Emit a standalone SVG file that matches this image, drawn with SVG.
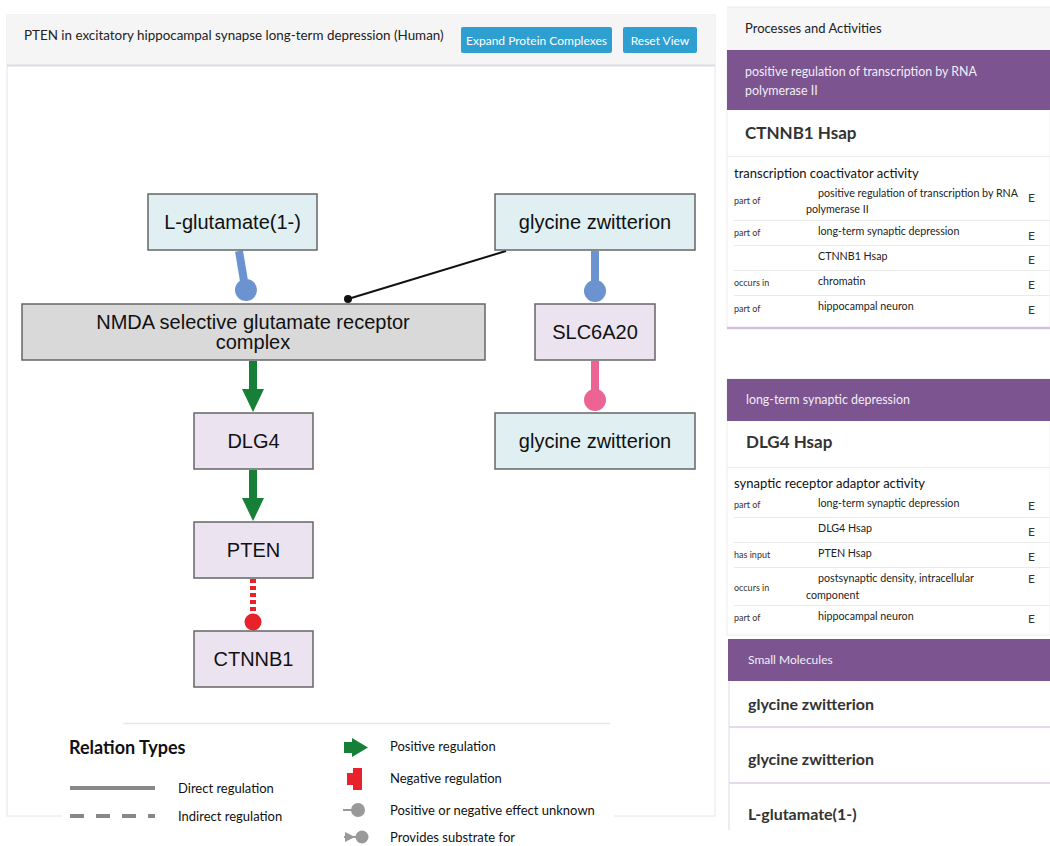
<svg xmlns="http://www.w3.org/2000/svg" width="1050" height="846" viewBox="0 0 1050 846">
<style>
.ui{font-family:Lato,"Open Sans","Liberation Sans",sans-serif}
.nt{font-family:"Liberation Sans",Arial,sans-serif;font-size:20px;fill:#111;text-anchor:middle;dominant-baseline:central}
.chem{fill:#e0eff2;stroke:#666;stroke-width:1.5}
.prot{fill:#ebe3f0;stroke:#666;stroke-width:1.5}
.cplx{fill:#d9d9d9;stroke:#666;stroke-width:1.5}
.btn{fill:#2d9fd1}
.btnt{font-size:12px;fill:#fff;text-anchor:middle}
.purp{fill:#7b5490}
.sm{font-size:9px;fill:#333}
.rt{font-size:10.7px;fill:#222}
.e{font-size:12px;fill:#333}
.sep{stroke:#eaeaea;stroke-width:1}
.lg{font-size:13px;fill:#111}
</style>
<rect width="1050" height="846" fill="#fff"/>
<!-- left panel -->
<g id="left-panel">
<rect x="7" y="15" width="708" height="801" fill="#fff" stroke="#e4e4ee" stroke-width="1"/>
<rect x="7" y="15" width="708" height="50" fill="#f5f5f5"/>
<line x1="7" y1="65.5" x2="715" y2="65.5" stroke="#dcdce6" stroke-width="2"/>
<text class="ui" x="24" y="40" font-size="13.4" fill="#222">PTEN in excitatory hippocampal synapse long-term depression (Human)</text>
<rect class="btn" x="461" y="27" width="151" height="26" rx="2"/>
<text class="ui btnt" x="536.5" y="44.5">Expand Protein Complexes</text>
<rect class="btn" x="623" y="27" width="74" height="26" rx="2"/>
<text class="ui btnt" x="660" y="44.5">Reset View</text>
</g>
<!-- connectors -->
<g id="connectors">
<line x1="239" y1="251" x2="245" y2="287" stroke="#6b93cf" stroke-width="8"/>
<circle cx="246" cy="290" r="11" fill="#6b93cf"/>
<line x1="506" y1="251" x2="348" y2="299" stroke="#111" stroke-width="2"/>
<circle cx="348" cy="299" r="4" fill="#111"/>
<line x1="595" y1="251" x2="595" y2="288" stroke="#6b93cf" stroke-width="8"/>
<circle cx="595" cy="291" r="11" fill="#6b93cf"/>
<line x1="595" y1="361" x2="595" y2="397" stroke="#ec6493" stroke-width="8"/>
<circle cx="595" cy="400" r="11" fill="#ec6493"/>
<line x1="253" y1="361" x2="253" y2="391" stroke="#168037" stroke-width="8"/>
<polygon points="242,389 264,389 253,412" fill="#168037"/>
<line x1="253" y1="470" x2="253" y2="500" stroke="#168037" stroke-width="8"/>
<polygon points="242,498 264,498 253,521" fill="#168037"/>
<line x1="253" y1="579" x2="253" y2="614" stroke="#e8222a" stroke-width="6" stroke-dasharray="4,3"/>
<circle cx="253" cy="622" r="8.5" fill="#e8222a"/>
</g>
<!-- nodes -->
<g id="n-lglutamate"><rect class="chem" x="148" y="194" width="169" height="56"/><text class="nt" x="232.5" y="222">L-glutamate(1-)</text></g>
<g id="n-glycine1"><rect class="chem" x="495" y="194" width="200" height="56"/><text class="nt" x="595" y="222">glycine zwitterion</text></g>
<g id="n-nmda"><rect class="cplx" x="22" y="304" width="463" height="56"/><text class="nt" x="253" y="322">NMDA selective glutamate receptor</text><text class="nt" x="253" y="342">complex</text></g>
<g id="n-slc6a20"><rect class="prot" x="535" y="304" width="120" height="56"/><text class="nt" x="595" y="332">SLC6A20</text></g>
<g id="n-glycine2"><rect class="chem" x="495" y="413" width="200" height="56"/><text class="nt" x="595" y="441">glycine zwitterion</text></g>
<g id="n-dlg4"><rect class="prot" x="194" y="413" width="119" height="56"/><text class="nt" x="253.5" y="441">DLG4</text></g>
<g id="n-pten"><rect class="prot" x="194" y="522" width="119" height="56"/><text class="nt" x="253.5" y="550">PTEN</text></g>
<g id="n-ctnnb1"><rect class="prot" x="194" y="631" width="119" height="56"/><text class="nt" x="253.5" y="659">CTNNB1</text></g>
<!-- legend -->
<g id="legend">
<rect x="62" y="723" width="552" height="123" fill="#fff"/>
<line x1="123" y1="723.5" x2="610" y2="723.5" stroke="#e6e6ee" stroke-width="1.5"/>
<text class="ui" x="69" y="754" font-size="18" font-weight="bold" fill="#111">Relation Types</text>
<line x1="70" y1="788" x2="155" y2="788" stroke="#888" stroke-width="4"/>
<text class="ui lg" x="178" y="793">Direct regulation</text>
<line x1="70" y1="816" x2="155" y2="816" stroke="#888" stroke-width="4" stroke-dasharray="14,12"/>
<text class="ui lg" x="178" y="821">Indirect regulation</text>
<polygon points="344,742 352,742 352,738 368,747.5 352,757 352,753 344,753" fill="#168037"/>
<text class="ui lg" x="390" y="751">Positive regulation</text>
<polygon points="353,768 362,768 362,790 353,790 353,785 347,785 347,773 353,773" fill="#e8222a"/>
<text class="ui lg" x="390" y="783">Negative regulation</text>
<line x1="343" y1="810" x2="353" y2="810" stroke="#999" stroke-width="2"/>
<circle cx="358" cy="810" r="7" fill="#999"/>
<text class="ui lg" x="390" y="815">Positive or negative effect unknown</text>
<polygon points="345,832 355,837 345,842" fill="#999"/>
<line x1="344" y1="837" x2="356" y2="837" stroke="#999" stroke-width="2"/>
<circle cx="362" cy="837" r="6.5" fill="#999"/>
<text class="ui lg" x="390" y="842">Provides substrate for</text>
</g>
<!-- right panel -->
<g id="right-panel" class="ui">
<rect x="727" y="7" width="323" height="43" fill="#f6f6f6"/>
<line x1="727" y1="7" x2="1050" y2="7" stroke="#eee"/>
<text x="745" y="33" font-size="13" fill="#222">Processes and Activities</text>
<g id="card1">
<rect x="727" y="50" width="323" height="278" fill="#fff" stroke="#eee"/>
<rect class="purp" x="727" y="50" width="323" height="60"/>
<text x="745" y="76" font-size="12.4" fill="#f2eef6">positive regulation of transcription by RNA</text>
<text x="745" y="95" font-size="12.4" fill="#f2eef6">polymerase II</text>
<text x="745" y="139" font-size="17" font-weight="bold" fill="#333">CTNNB1 Hsap</text>
<line x1="727" y1="156.5" x2="1050" y2="156.5" stroke="#ececec"/>
<text x="734" y="178" font-size="13" fill="#111">transcription coactivator activity</text>
<text class="sm" x="734" y="204">part of</text>
<text class="rt" x="818" y="197">positive regulation of transcription by RNA</text>
<text class="rt" x="806" y="213">polymerase II</text>
<text class="e" x="1028" y="202">E</text>
<line class="sep" x1="734" y1="220.5" x2="1050" y2="220.5"/>
<text class="sm" x="734" y="236">part of</text>
<text class="rt" x="818" y="235">long-term synaptic depression</text>
<text class="e" x="1028" y="240">E</text>
<line class="sep" x1="734" y1="245.5" x2="1050" y2="245.5"/>
<text class="rt" x="818" y="260">CTNNB1 Hsap</text>
<text class="e" x="1028" y="264">E</text>
<line class="sep" x1="734" y1="270.5" x2="1050" y2="270.5"/>
<text class="sm" x="734" y="286">occurs in</text>
<text class="rt" x="818" y="285">chromatin</text>
<text class="e" x="1028" y="289">E</text>
<line class="sep" x1="734" y1="295.5" x2="1050" y2="295.5"/>
<text class="sm" x="734" y="312">part of</text>
<text class="rt" x="818" y="310">hippocampal neuron</text>
<text class="e" x="1028" y="314">E</text>
<line x1="727" y1="328" x2="1050" y2="328" stroke="#d5bfe0" stroke-width="2.5"/>
</g>
<g id="card2">
<rect x="727" y="379" width="323" height="256" fill="#fff" stroke="#eee"/>
<rect class="purp" x="727" y="379" width="323" height="42"/>
<text x="746" y="404" font-size="12.4" fill="#f2eef6">long-term synaptic depression</text>
<text x="746" y="448" font-size="17" font-weight="bold" fill="#333">DLG4 Hsap</text>
<line x1="727" y1="467.5" x2="1050" y2="467.5" stroke="#ececec"/>
<text x="734" y="488" font-size="13" fill="#111">synaptic receptor adaptor activity</text>
<text class="sm" x="734" y="508">part of</text>
<text class="rt" x="818" y="507">long-term synaptic depression</text>
<text class="e" x="1028" y="510">E</text>
<line class="sep" x1="734" y1="517.5" x2="1050" y2="517.5"/>
<text class="rt" x="818" y="532">DLG4 Hsap</text>
<text class="e" x="1028" y="536">E</text>
<line class="sep" x1="734" y1="542.5" x2="1050" y2="542.5"/>
<text class="sm" x="734" y="558">has input</text>
<text class="rt" x="818" y="557">PTEN Hsap</text>
<text class="e" x="1028" y="561">E</text>
<line class="sep" x1="734" y1="567.5" x2="1050" y2="567.5"/>
<text class="sm" x="734" y="591">occurs in</text>
<text class="rt" x="818" y="582">postsynaptic density, intracellular</text>
<text class="rt" x="806" y="599">component</text>
<text class="e" x="1028" y="583">E</text>
<line class="sep" x1="734" y1="605.5" x2="1050" y2="605.5"/>
<text class="sm" x="734" y="621">part of</text>
<text class="rt" x="818" y="620">hippocampal neuron</text>
<text class="e" x="1028" y="623">E</text>
</g>
<g id="card3">
<rect class="purp" x="728" y="639" width="322" height="42"/>
<text x="748" y="664" font-size="12" fill="#f2eef6">Small Molecules</text>
<line x1="729" y1="681" x2="729" y2="830" stroke="#e6e6ee" stroke-width="1.5"/>
<text x="748" y="710" font-size="16" font-weight="bold" fill="#333">glycine zwitterion</text>
<line x1="729" y1="727" x2="1050" y2="727" stroke="#dfcde8" stroke-width="1.5"/>
<text x="748" y="765" font-size="16" font-weight="bold" fill="#333">glycine zwitterion</text>
<line x1="729" y1="783" x2="1050" y2="783" stroke="#dfcde8" stroke-width="1.5"/>
<text x="748" y="820" font-size="16" font-weight="bold" fill="#333">L-glutamate(1-)</text>
</g>
</g>
</svg>
